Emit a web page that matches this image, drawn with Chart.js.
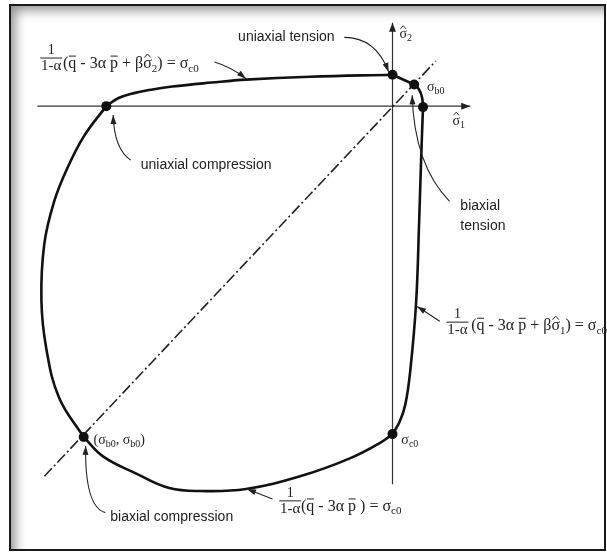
<!DOCTYPE html>
<html>
<head>
<meta charset="utf-8">
<script src="https://cdn.jsdelivr.net/npm/chart.js@4.4.1/dist/chart.umd.min.js"></script>
<style>
  html, body { margin: 0; padding: 0; background: #fff; }
  #wrap { position: relative; width: 607px; height: 553px; overflow: hidden; }
  #frame {
    position: absolute; left: 9px; top: 4px; width: 593px; height: 543px;
    border: 2px solid #1a1a1a;
    box-shadow: inset 11px 11px 12px -7px rgba(0, 0, 0, 0.45);
  }
  #yieldChart { position: absolute; left: 0; top: 0; }
</style>
</head>
<body>
<div id="wrap">
  <div id="frame"></div>
  <canvas id="yieldChart" width="607" height="553"></canvas>
</div>
<script>
// yield surface in plane stress, (sigma1, sigma2), origin at the axes crossing
const topBranch    = [[-291, 0], [-279, 8], [-264, 13], [-244, 17], [-224, 20], [-184, 24], [-149, 27], [-84, 30], [0, 32]];
const tensionCap   = [[0, 32], [22, 22]];
const tensionRound = [[22, 22], [27, 17], [30, 9], [31, -1]];
const rightBranch  = [[31, -1], [29, -57], [27, -120], [24, -200], [18, -270], [13, -304], [7, -322], [0, -334]];
const bottomBranch = [[0, -334], [-11, -342], [-44, -359], [-94, -377], [-149, -390], [-194, -392], [-227, -389], [-261, -374], [-294, -357], [-314, -337]];
const leftBranch   = [[-314, -337], [-339, -297], [-352, -247], [-357, -197], [-354, -140], [-344, -97], [-331, -64], [-314, -31], [-291, 0]];

// special points: uniaxial compression, uniaxial tension (s2), biaxial tension, uniaxial tension (s1), sigma_c0, biaxial compression
const keyPoints = [[-291, 0], [0, 32], [22, 22], [31, -1], [0, -334], [-314, -337]];

const diagonal = [[-354, -377], [44, 46]];
const axisS1 = [[-361, 0], [79, 0]];
const axisS2 = [[0, -385], [0, 85]];

const X_RANGE = [-394, 213];
const Y_RANGE = [-450, 103];

// text pieces: [text, style] with style 'sub', 'bar' (overbar) or 'hat'
const formulaTop = [['('], ['q', 'bar'], [' - 3α '], ['p', 'bar'], [' + β'], ['σ', 'hat'], ['2', 'sub'], [') = σ'], ['c0', 'sub']];
const formulaRight = [['('], ['q', 'bar'], [' - 3α '], ['p', 'bar'], [' + β'], ['σ', 'hat'], ['1', 'sub'], [') = σ'], ['c0', 'sub']];
const formulaBottom = [['('], ['q', 'bar'], [' - 3α '], ['p', 'bar'], [' ) = σ'], ['c0', 'sub']];

const labels = [
  { at: [-157, 70], parts: [['uniaxial tension']], kind: 'word' },
  { at: [-256, -60], parts: [['uniaxial compression']], kind: 'word' },
  { at: [69, -102], parts: [['biaxial']], kind: 'word' },
  { at: [69, -122], parts: [['tension']], kind: 'word' },
  { at: [-287, -419], parts: [['biaxial compression']], kind: 'word' },
  { at: [7, 73], parts: [['σ', 'hat'], ['2', 'sub']], kind: 'math' },
  { at: [61, -15], parts: [['σ', 'hat'], ['1', 'sub']], kind: 'math' },
  { at: [35, 19], parts: [['σ'], ['b0', 'sub']], kind: 'math' },
  { at: [9, -340], parts: [['σ'], ['c0', 'sub']], kind: 'math' },
  { at: [-304, -340], parts: [['(σ'], ['b0', 'sub'], [', σ'], ['b0', 'sub'], [')']], kind: 'math' }
];

// fraction 1/(1-a) centre and the formula that follows it
const formulas = [
  { frac: [-347, 49], at: [-335, 43], parts: formulaTop },
  { frac: [66, -220], at: [80, -224], parts: formulaRight },
  { frac: [-104, -402], at: [-93, -408], parts: formulaBottom }
];

// leader arrows: start, control, end (arrow tip)
const leaders = [
  [[-181, 45], [-164, 40], [-149, 28]],
  [[-49, 70], [-17, 70], [-4, 35]],
  [[-266, -55], [-283, -44], [-284, -9]],
  [[58, -97], [22, -60], [20, 11]],
  [[48, -219], [36, -211], [25, -204]],
  [[-122, -400], [-135, -395], [-148, -390]],
  [[-292, -414], [-313, -408], [-312, -346]]
];

const toXY = arr => arr.map(p => ({ x: p[0], y: p[1] }));

function curve(data) {
  return {
    data: toXY(data), showLine: true, borderColor: '#111', borderWidth: 2.6,
    pointRadius: 0, tension: 0.4, fill: false
  };
}

function drawParts(ctx, parts, x, y, size, family) {
  let cx = x;
  parts.forEach(p => {
    const sub = p[1] === 'sub';
    ctx.font = (sub ? Math.round(size * 0.68) : size) + 'px ' + family;
    const w = ctx.measureText(p[0]).width;
    ctx.fillText(p[0], cx, sub ? y + size * 0.3 : y);
    if (p[1] === 'bar') {
      ctx.fillRect(cx + 0.5, y - size * 0.52, w - 1, 1);
    } else if (p[1] === 'hat') {
      const m = cx + w / 2;
      ctx.beginPath();
      ctx.moveTo(m - size * 0.2, y - size * 0.4);
      ctx.lineTo(m, y - size * 0.62);
      ctx.lineTo(m + size * 0.2, y - size * 0.4);
      ctx.lineWidth = 1;
      ctx.stroke();
    }
    cx += w;
  });
}

function arrowHead(ctx, from, to, len, half) {
  const a = Math.atan2(to[1] - from[1], to[0] - from[0]);
  ctx.beginPath();
  ctx.moveTo(to[0], to[1]);
  ctx.lineTo(to[0] - len * Math.cos(a) + half * Math.sin(a), to[1] - len * Math.sin(a) - half * Math.cos(a));
  ctx.lineTo(to[0] - len * Math.cos(a) - half * Math.sin(a), to[1] - len * Math.sin(a) + half * Math.cos(a));
  ctx.closePath();
  ctx.fill();
}

const annotations = {
  id: 'annotations',
  afterDatasetsDraw(chart) {
    const { ctx, scales: { x, y } } = chart;
    const P = p => [x.getPixelForValue(p[0]), y.getPixelForValue(p[1])];
    ctx.save();
    ctx.fillStyle = '#222';
    ctx.strokeStyle = '#222';

    // axis arrowheads
    arrowHead(ctx, P(axisS1[0]), P(axisS1[1]), 9, 3.5);
    arrowHead(ctx, P(axisS2[0]), P(axisS2[1]), 9, 3.5);

    // leaders
    leaders.forEach(l => {
      const s = P(l[0]), c = P(l[1]), e = P(l[2]);
      ctx.lineWidth = 1.1;
      ctx.beginPath();
      ctx.moveTo(s[0], s[1]);
      ctx.quadraticCurveTo(c[0], c[1], e[0], e[1]);
      ctx.stroke();
      arrowHead(ctx, c, e, 9, 3);
    });

    ctx.textBaseline = 'middle';
    ctx.textAlign = 'left';
    labels.forEach(l => {
      const p = P(l.at);
      if (l.kind === 'word') drawParts(ctx, l.parts, p[0], p[1], 14, '"Liberation Sans", Arial, sans-serif');
      else drawParts(ctx, l.parts, p[0], p[1], 14, '"Liberation Serif", "DejaVu Serif", serif');
    });

    formulas.forEach(f => {
      const c = P(f.frac);
      ctx.textAlign = 'center';
      ctx.font = '14px "Liberation Serif", serif';
      ctx.fillText('1', c[0], c[1] - 8);
      ctx.font = '15px "Liberation Serif", serif';
      ctx.fillText('1-α', c[0], c[1] + 8);
      ctx.fillRect(c[0] - 11, c[1] - 0.5, 22, 1);
      ctx.textAlign = 'left';
      const p = P(f.at);
      drawParts(ctx, f.parts, p[0], p[1], 16, '"Liberation Serif", serif');
    });
    ctx.restore();
  }
};

new Chart(document.getElementById('yieldChart'), {
  type: 'scatter',
  data: {
    datasets: [
      { data: toXY(keyPoints), pointRadius: 5, pointBackgroundColor: '#111', pointBorderWidth: 0, showLine: false },
      curve(topBranch),
      { ...curve(tensionCap), tension: 0 },
      curve(tensionRound),
      curve(rightBranch),
      curve(bottomBranch),
      curve(leftBranch),
      { data: toXY(diagonal), showLine: true, borderColor: '#222', borderWidth: 1.6, borderDash: [11, 3, 2, 3], pointRadius: 0 },
      { data: toXY(axisS1), showLine: true, borderColor: '#333', borderWidth: 1.2, pointRadius: 0 },
      { data: toXY(axisS2), showLine: true, borderColor: '#333', borderWidth: 1.2, pointRadius: 0 }
    ]
  },
  plugins: [annotations],
  options: {
    responsive: false,
    animation: false,
    layout: { padding: 0 },
    plugins: {
      legend: { display: false },
      tooltip: { enabled: false }
    },
    scales: {
      x: { type: 'linear', min: X_RANGE[0], max: X_RANGE[1], display: false },
      y: { type: 'linear', min: Y_RANGE[0], max: Y_RANGE[1], display: false }
    }
  }
});
</script>
</body>
</html>
